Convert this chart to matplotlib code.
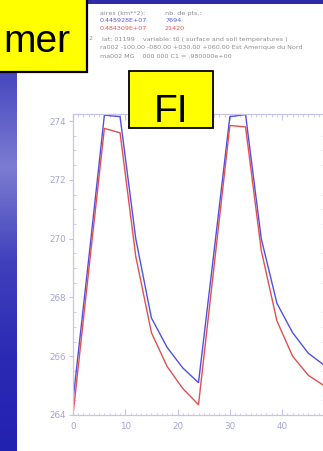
import numpy as np
import matplotlib
matplotlib.use("Agg")
import matplotlib.pyplot as plt
from matplotlib.patches import Rectangle
from matplotlib.ticker import MultipleLocator

# données (pas de 3 h)
heures = [0, 3, 6, 9, 12, 15, 18, 21, 24, 27, 30, 33, 36, 39, 42, 45, 48]
t_bleu = [264.5, 269.3, 274.2, 274.15, 270.0, 267.3, 266.3, 265.6, 265.1,
          269.6, 274.15, 274.22, 270.0, 267.8, 266.8, 266.1, 265.7]
t_rouge = [264.0, 268.9, 273.75, 273.6, 269.4, 266.8, 265.65, 264.9, 264.35,
           269.1, 273.85, 273.8, 269.6, 267.2, 266.0, 265.35, 265.0]

x_ticks = [0, 10, 20, 30, 40]
y_ticks = [264, 266, 268, 270, 272, 274]

entete = [
    ("aires (km**2):", "nb. de pts.:", "#8e8e8e"),
    ("0.445928E+07", "7694", "#5a5ae6"),
    ("0.484309E+07", "21420", "#e65a5a"),
]
ligne_lat = "lat: 01199    variable: t0 ( surface and soil temperatures )"
ligne_ra = "ra002 -100.00 -080.00 +030.00 +060.00 Est Amerique du Nord"
ligne_ma = "ma002 MG    000 000 C1 = .980000e+00"

W, H = 323, 451
fig = plt.figure(figsize=(W / 100, H / 100), dpi=100)
fig.patch.set_facecolor("white")


def fx(px):
    return px / W


def fy(py):
    return 1 - py / H


# bande bleue à gauche (dégradé)
bg = fig.add_axes([0, 0, fx(17), fy(73)])
grad = np.linspace(0, 1, 256).reshape(-1, 1)
cmap = matplotlib.colors.LinearSegmentedColormap.from_list(
    "bleu", ["#4848c0", "#7c7cd2", "#4040bc", "#2a2ab4", "#2222b0"])
bg.imshow(grad, aspect="auto", cmap=cmap, extent=[0, 1, 0, 1])
bg.axis("off")

# bande bleue en haut
fig.add_artist(Rectangle((fx(87), fy(4)), 1 - fx(87), fy(0) - fy(4),
                         transform=fig.transFigure, color="#2c2ca8", lw=0))

# boîte jaune "mer"
fig.add_artist(Rectangle((-0.01, fy(72)), fx(87) + 0.01, fy(0) - fy(72) + 0.01,
                         transform=fig.transFigure, facecolor="#ffff00",
                         edgecolor="black", lw=1.6, zorder=5))
fig.text(fx(70), fy(52), "mer", ha="right", va="baseline", fontsize=28,
         family=["Liberation Sans", "DejaVu Sans"], zorder=6)

# texte d'en-tête
ys = [13, 21, 29]
for (a, b, c), y in zip(entete, ys):
    fig.text(fx(100), fy(y), a, color=c, fontsize=4.6, va="center")
    fig.text(fx(165), fy(y), b, color=c, fontsize=4.6, va="center")
fig.text(fx(89), fy(39), "2", color="#8e8e8e", fontsize=4.6, va="center")
fig.text(fx(102), fy(39), ligne_lat, color="#8e8e8e", fontsize=4.6, va="center")
fig.text(fx(100), fy(48), ligne_ra, color="#8e8e8e", fontsize=4.6, va="center")
fig.text(fx(100), fy(56), ligne_ma, color="#8e8e8e", fontsize=4.6, va="center")

# graphique
ax = fig.add_axes([fx(73), fy(415), fx(251), (415 - 114) / H])
ax.plot(heures, t_bleu, color="#5050e0", lw=1.0)
ax.plot(heures, t_rouge, color="#e05050", lw=1.0)
ax.set_xlim(0, 48)
ax.set_ylim(264, 274.24)
ax.set_xticks(x_ticks)
ax.set_yticks(y_ticks)
ax.xaxis.set_minor_locator(MultipleLocator(1))
ax.yaxis.set_minor_locator(MultipleLocator(0.5))

axe_c = "#c4c4ee"
for s in ax.spines.values():
    s.set_color(axe_c)
    s.set_linestyle((0, (1, 1)))
    s.set_linewidth(0.9)
ax.tick_params(axis="both", which="both", colors=axe_c, labelcolor="#a4a4d6",
               labelsize=6.3)
ax.tick_params(axis="x", which="major", direction="in", length=4, pad=5,
               top=True)
ax.tick_params(axis="x", which="minor", direction="in", length=1.8, top=True)
ax.tick_params(axis="y", which="major", direction="out", length=3, pad=2)
ax.tick_params(axis="y", which="minor", direction="in", length=1.8, right=True)

# boîte jaune "FI"
fig.add_artist(Rectangle((fx(129), fy(128)), fx(213) - fx(129), fy(71) - fy(128),
                         transform=fig.transFigure, facecolor="#ffff00",
                         edgecolor="black", lw=1.3, zorder=5))
fig.text(fx(171), fy(122), "FI", ha="center", va="baseline", fontsize=28,
         family=["Liberation Sans", "DejaVu Sans"], zorder=6)

fig.savefig("out.png", dpi=100)
